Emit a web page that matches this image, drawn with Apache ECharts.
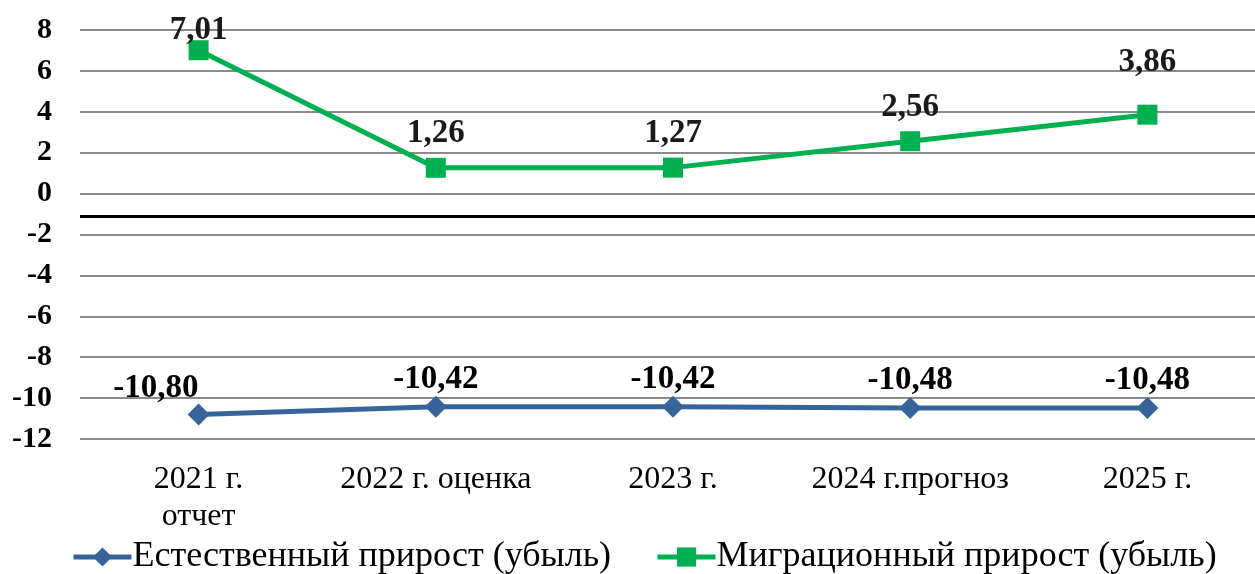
<!DOCTYPE html>
<html>
<head>
<meta charset="utf-8">
<style>
  html, body { margin: 0; padding: 0; background: #fff; overflow: hidden; }
  #main { width: 1266px; height: 574px; }
</style>
<script src="https://cdn.jsdelivr.net/npm/echarts@6/dist/echarts.min.js"></script>
</head>
<body>
<div id="main"></div>
<script>
// категории и ряды
var years = ['2021 г.\nотчет', '2022 г. оценка', '2023 г.', '2024 г.прогноз', '2025 г.'];
var naturalGrowth = [-10.80, -10.42, -10.42, -10.48, -10.48];
var migrationGrowth = [7.01, 1.26, 1.27, 2.56, 3.86];
var seriesNames = ['Естественный прирост (убыль)', 'Миграционный прирост (убыль)'];
var separatorLevel = -1.1;

var serif = '"Liberation Serif", "DejaVu Serif", serif';

function fmt(p) {
  return p.value.toFixed(2).replace('.', ',');
}

var chart = echarts.init(document.getElementById('main'));

// подписи зеленого ряда стоят на разной высоте
var greenLift = [-7, 8, 8, 7, 26];

chart.setOption({
  animation: false,
  // область чуть шире окна: правая полоса категории уходит за край
  grid: { left: 80, right: 0, top: 30, bottom: 135 },
  legend: {
    left: 66,
    top: 534,
    itemWidth: 58,
    itemHeight: 24,
    itemGap: 44,
    lineStyle: { width: 5 },
    textStyle: { fontFamily: serif, fontSize: 36, color: '#000', padding: [0, 0, 0, -4] },
    data: seriesNames
  },
  xAxis: {
    type: 'category',
    data: years,
    axisLine: { show: false },
    axisTick: { show: false },
    axisLabel: {
      interval: 0,
      margin: 22,
      fontFamily: serif,
      fontSize: 32,
      lineHeight: 37,
      color: '#000',
      verticalAlign: 'top'
    }
  },
  yAxis: {
    type: 'value',
    min: -12,
    max: 8,
    interval: 2,
    axisLine: { show: false },
    axisTick: { show: false },
    axisLabel: {
      margin: 28,
      fontFamily: serif,
      fontSize: 30,
      fontWeight: 'bold',
      color: '#000'
    },
    splitLine: { lineStyle: { color: '#8a8a8a', width: 2 } }
  },
  series: [
    {
      name: seriesNames[0],
      type: 'line',
      data: naturalGrowth.map(function (v, i) {
        return i === 0
          ? { value: v, label: { position: 'left', distance: 5, offset: [16, -26] } }
          : { value: v };
      }),
      symbol: 'diamond',
      symbolSize: 22,
      lineStyle: { color: '#38639a', width: 5 },
      itemStyle: { color: '#38639a' },
      label: {
        show: true,
        position: 'top',
        distance: 0,
        formatter: fmt,
        fontFamily: serif,
        fontSize: 33,
        fontWeight: 'bold',
        color: '#000'
      },
      markLine: {
        silent: true,
        symbol: 'none',
        label: { show: false },
        lineStyle: { color: '#000', width: 3, type: 'solid' },
        data: [{ yAxis: separatorLevel }]
      }
    },
    {
      name: seriesNames[1],
      type: 'line',
      data: migrationGrowth.map(function (v, i) {
        return { value: v, label: { offset: [0, -greenLift[i]] } };
      }),
      symbol: 'rect',
      symbolSize: 20,
      lineStyle: { color: '#00b050', width: 5 },
      itemStyle: { color: '#00b050' },
      label: {
        show: true,
        position: 'top',
        distance: 0,
        formatter: fmt,
        fontFamily: serif,
        fontSize: 33,
        fontWeight: 'bold',
        color: '#1a1a1a'
      }
    }
  ]
});
</script>
</body>
</html>
